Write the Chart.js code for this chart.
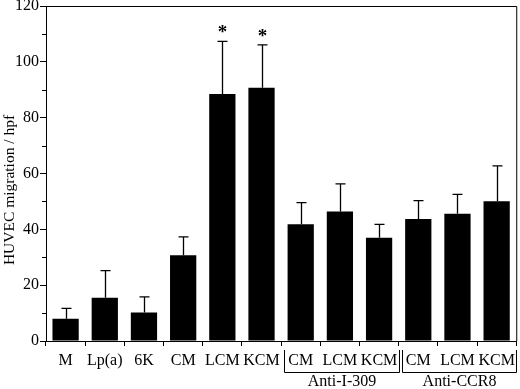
<!DOCTYPE html>
<html>
<head>
<meta charset="utf-8">
<script src="https://cdn.jsdelivr.net/npm/chart.js@4.4.0/dist/chart.umd.min.js"></script>
<style>
html,body{margin:0;padding:0;background:#fff;}
#wrap{width:520px;height:389px;position:relative;}
</style>
</head>
<body>
<div id="wrap"><canvas id="c" width="520" height="389"></canvas></div>
<script>
// ---- data ----
const categories = ['M','Lp(a)','6K','CM','LCM','KCM','CM','LCM','KCM','CM','LCM','KCM'];
const meanValues = [8.0, 15.5, 10.2, 30.7, 88.5, 90.7, 41.8, 46.4, 37.0, 43.7, 45.6, 50.1];
const errorValues = [3.7, 9.7, 5.6, 6.6, 18.8, 15.4, 7.8, 9.9, 4.8, 6.6, 6.9, 12.6];
const significance = ['', '', '', '', '*', '*', '', '', '', '', '', ''];
const groupLabels = ['Anti-I-309', 'Anti-CCR8'];
const groupStart = [6, 9];
const groupEnd = [8, 11];
const yTicks = [0, 20, 40, 60, 80, 100, 120];
const yMinorTicks = [10, 30, 50, 70, 90, 110];
const yTitle = 'HUVEC migration / hpf';

const FONT = '"Liberation Serif", "Times New Roman", serif';

const extras = {
  id: 'extras',
  afterDatasetsDraw(chart) {
    const ctx = chart.ctx;
    const x = chart.scales.x, y = chart.scales.y;
    const ca = chart.chartArea;
    ctx.save();
    ctx.strokeStyle = '#000';
    ctx.fillStyle = '#000';
    // frame top and right
    ctx.lineWidth = 1;
    ctx.beginPath();
    ctx.moveTo(ca.left, ca.top + 0.5);
    ctx.lineTo(ca.right + 0.5, ca.top + 0.5);
    ctx.lineTo(ca.right + 0.5, ca.bottom);
    ctx.stroke();
    // minor y ticks
    ctx.beginPath();
    yMinorTicks.forEach(v => {
      const py = Math.round(y.getPixelForValue(v)) + 0.5;
      ctx.moveTo(ca.left - 4, py);
      ctx.lineTo(ca.left, py);
    });
    ctx.stroke();
    // error bars
    ctx.lineWidth = 1.3;
    meanValues.forEach((m, i) => {
      const px = Math.round(x.getPixelForValue(i)) + 0.5;
      const pTop = y.getPixelForValue(m + errorValues[i]);
      const pBar = y.getPixelForValue(m);
      ctx.beginPath();
      ctx.moveTo(px, pBar);
      ctx.lineTo(px, pTop);
      ctx.moveTo(px - 5, pTop);
      ctx.lineTo(px + 5, pTop);
      ctx.stroke();
      if (significance[i]) {
        ctx.font = 'bold 19px ' + FONT;
        ctx.textAlign = 'center';
        ctx.textBaseline = 'alphabetic';
        ctx.fillText(significance[i], px, pTop - 3);
      }
    });
    // group brackets
    ctx.lineWidth = 1;
    const half = (x.getPixelForValue(1) - x.getPixelForValue(0)) / 2;
    groupLabels.forEach((lab, g) => {
      const l = Math.round(x.getPixelForValue(groupStart[g]) - half) + 3.5;
      const r = Math.min(Math.round(x.getPixelForValue(groupEnd[g]) + half) + 0.5, chart.width - 1.5);
      const yTop = ca.bottom + 9, yBot = ca.bottom + 31.5;
      ctx.beginPath();
      ctx.moveTo(l, yTop);
      ctx.lineTo(l, yBot);
      ctx.lineTo(r, yBot);
      ctx.lineTo(r, yTop);
      ctx.stroke();
      ctx.font = '16px ' + FONT;
      ctx.textAlign = 'center';
      ctx.textBaseline = 'middle';
      ctx.fillText(lab, (l + r) / 2, ca.bottom + 41);
    });
    // y-axis title
    ctx.translate(10, 190);
    ctx.rotate(-Math.PI / 2);
    ctx.font = '15.5px ' + FONT;
    ctx.textAlign = 'center';
    ctx.textBaseline = 'middle';
    ctx.fillText(yTitle, 0, 0);
    ctx.restore();
  }
};

new Chart(document.getElementById('c'), {
  type: 'bar',
  data: {
    labels: categories,
    datasets: [{
      data: meanValues,
      backgroundColor: '#000',
      borderWidth: 0,
      categoryPercentage: 1,
      barPercentage: 0.67
    }]
  },
  options: {
    responsive: false,
    animation: false,
    devicePixelRatio: 1,
    layout: { padding: { top: 0, right: 3, left: 0, bottom: 0 } },
    plugins: { legend: { display: false }, tooltip: { enabled: false } },
    scales: {
      x: {
        offset: true,
        afterFit: s => { s.height = 48; },
        grid: { display: true, drawOnChartArea: false, drawTicks: true, tickLength: 5, color: '#000', offset: true },
        border: { display: true, color: '#000', width: 1 },
        ticks: { color: '#000', font: { family: FONT, size: 16 }, padding: 5, maxRotation: 0, autoSkip: false }
      },
      y: {
        min: 0, max: 120,
        afterFit: s => { s.width = 46; s.paddingTop = 6; s.paddingBottom = 0; },
        afterBuildTicks: s => { s.ticks = yTicks.map(v => ({ value: v })); },
        grid: { display: true, drawOnChartArea: false, drawTicks: true, tickLength: 6, color: '#000' },
        border: { display: true, color: '#000', width: 1 },
        ticks: { color: '#000', font: { family: FONT, size: 16 }, padding: 1 }
      }
    }
  },
  plugins: [extras]
});
</script>
</body>
</html>
